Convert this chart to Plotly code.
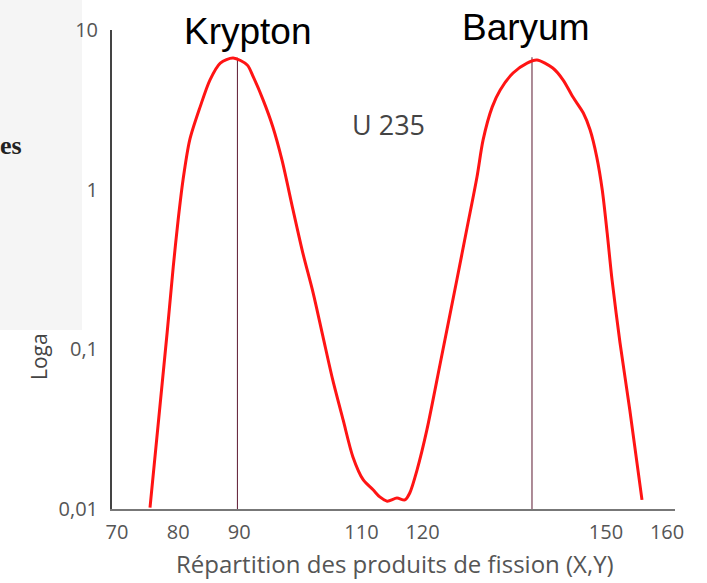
import plotly.graph_objects as go

# Fission product distribution (U 235)
mass_number = [75.4, 78.2, 79.2, 80.0, 80.8, 81.9, 83.6, 85.2, 86.9, 89.0,
               91.3, 92.3, 93.9, 95.5, 97.0, 98.8, 100.4, 102.1, 103.7,
               105.3, 107.0, 108.6, 110.3, 111.9, 113.0, 114.2, 115.8, 117.1, 117.9,
               119.1, 120.7, 122.9, 125.6, 127.3, 128.9, 129.9, 131.4, 132.7, 134.8,
               137.1, 138.7, 141.3, 143.0, 144.6, 146.3, 147.4, 148.5, 149.4, 150.2,
               151.0, 152.3, 153.9, 155.9]
yield_pct = [0.0102, 0.127, 0.328, 0.646, 1.15, 2.05, 3.30, 4.86, 6.21, 6.68,
             6.04, 5.08, 3.65, 2.47, 1.53, 0.747, 0.402, 0.225, 0.120,
             0.0643, 0.0361, 0.0212, 0.0152, 0.0132, 0.0119, 0.0112, 0.0117, 0.0114, 0.0126,
             0.0176, 0.0313, 0.0822, 0.272, 0.583, 1.20, 2.05, 3.30, 4.21, 5.38,
             6.21, 6.49, 5.78, 4.86, 3.80, 3.02, 2.37, 1.60, 0.995, 0.536,
             0.272, 0.110, 0.0418, 0.0114]

peak_names = ["Krypton", "Baryum"]
peak_x = [89.7, 137.9]
peak_top = [6.7, 6.75]

x_ticks = [70, 80, 90, 110, 120, 150, 160]
y_ticks = [0.01, 0.1, 1, 10]
y_ticktext = ["0,01", "0,1", "1", "10"]

x_title = "Répartition des produits de fission (X,Y)"
series_label = "U 235"

W, H = 707, 583
L, R, T, B = 112, 32, 30, 74
pw, ph = W - L - R, H - T - B


def px(xp):
    return (xp - L) / pw


def py(yp):
    return (H - B - yp) / ph


def note(text, xp, yp, size, color, family, **kw):
    d = dict(text=text, x=px(xp), y=py(yp), xref="paper", yref="paper",
             xanchor="center", yanchor="middle", showarrow=False,
             font=dict(family=family, size=size, color=color))
    d.update(kw)
    return d


fig = go.Figure()
for xv, top in zip(peak_x, peak_top):
    fig.add_trace(go.Scatter(x=[xv, xv], y=[0.01, top], mode="lines",
                             line=dict(color="#5c1830", width=1),
                             hoverinfo="skip", showlegend=False))
fig.add_trace(go.Scatter(x=mass_number, y=yield_pct, mode="lines",
                         line=dict(color="#ff1414", width=3, shape="spline", smoothing=0.8),
                         showlegend=False))

font_c = "Open Sans"
fig.update_layout(
    width=W, height=H,
    margin=dict(l=L, r=R, t=T, b=B),
    paper_bgcolor="white", plot_bgcolor="white",
    showlegend=False,
    xaxis=dict(range=[69.18, 161.3], showline=True, linecolor="#777", linewidth=2,
               showgrid=False, zeroline=False, ticks="", tickvals=x_ticks,
               tickfont=dict(family=font_c, size=20, color="#555"),
               ticklabelstandoff=4),
    yaxis=dict(type="log", range=[-2, 1], showline=True, linecolor="#444", linewidth=2,
               showgrid=False, zeroline=False, ticks="", tickvals=y_ticks,
               ticktext=y_ticktext,
               tickfont=dict(family=font_c, size=20, color="#555"),
               ticklabelstandoff=8),
    shapes=[dict(type="rect", xref="paper", yref="paper",
                 x0=px(0), x1=px(82), y0=py(330), y1=py(0),
                 fillcolor="#f5f5f5", line=dict(width=0), layer="below")],
    annotations=[
        note(peak_names[0], 248, 32, 37, "black", "Liberation Sans, Arial"),
        note(peak_names[1], 525, 27, 37, "black", "Liberation Sans, Arial"),
        note(series_label, 388, 124, 27, "#444", font_c),
        note(x_title, 395, 563, 24, "#555", font_c),
        note("Loga", 39, 357, 21, "#444", font_c, textangle=-90),
        note("<b>es</b>", 11, 146, 26, "#222", "Liberation Serif, Times New Roman"),
    ],
)

fig.write_html("out.html")
